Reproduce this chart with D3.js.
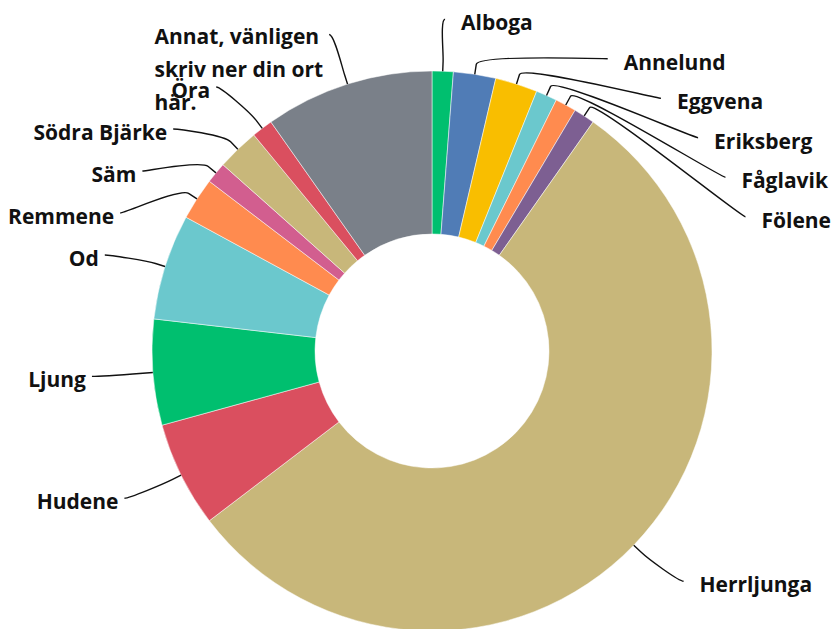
<!DOCTYPE html>
<html>
<head>
<meta charset="utf-8">
<script src="https://cdn.jsdelivr.net/npm/d3@7"></script>
<style>
    body { margin: 0; background: #fff; }
    #chart text {
        font-family: "Open Sans", sans-serif;
        font-weight: 700;
        font-size: 21px;
        fill: #111;
    }
</style>
</head>
<body>
<svg id="chart"></svg>
<script>
// answers, clockwise from 12 o'clock
const categories = ["Alboga", "Annelund", "Eggvena", "Eriksberg", "Fåglavik", "Fölene",
    "Herrljunga", "Hudene", "Ljung", "Od", "Remmene", "Säm", "Södra Bjärke", "Öra",
    "Annat, vänligen skriv ner din ort här."];
const counts = [1, 2, 2, 1, 1, 1, 45, 5, 5, 5, 2, 1, 2, 1, 8];
const colors = ["#00bf6f", "#507cb6", "#f9be00", "#6bc8cd", "#ff8b4f", "#7d5f92",
    "#c8b77a", "#da4f5f", "#00bf6f", "#6bc8cd", "#ff8b4f", "#d25e8f", "#c8b77a", "#da4f5f",
    "#7a8089"];

const width = 837, height = 629;
const cx = 432, cy = 351;
const outerR = 280, innerR = 117;
const labelR = 341;   // where connectors end
const naturalR = 332; // where labels would like to sit
const wrapWidth = 180;

const svg = d3.select("#chart")
    .attr("width", width)
    .attr("height", height);

const g = svg.append("g").attr("transform", `translate(${cx},${cy})`);

const pie = d3.pie().sort(null).value(d => d.value);
const arcs = pie(categories.map((c, i) => ({ name: c, value: counts[i], color: colors[i] })));
const arc = d3.arc().innerRadius(innerR).outerRadius(outerR);

g.selectAll("path.slice")
    .data(arcs)
    .join("path")
    .attr("class", "slice")
    .attr("d", arc)
    .attr("fill", d => d.data.color)
    .attr("stroke", "#fff")
    .attr("stroke-width", 0.5);

// label layout (roughly what the original charting lib does)
arcs.forEach(d => {
    d.mid = (d.startAngle + d.endAngle) / 2;
    d.left = d.mid > Math.PI;
    d.naturalY = -naturalR * Math.cos(d.mid);
});

function placeSide(list, gap) {
    list.sort((a, b) => a.naturalY - b.naturalY);
    let prev = null;
    list.forEach((d, i) => {
        d.ly = prev === null ? d.naturalY : Math.max(d.naturalY, prev + gap);
        prev = d.ly;
        const sign = d.left ? -1 : 1;
        if (i === 0) {
            d.lx = labelR * Math.sin(d.mid); // top label keeps its natural x
        } else {
            d.lx = sign * Math.sqrt(Math.max(0, labelR * labelR - d.ly * d.ly));
        }
    });
}
placeSide(arcs.filter(d => !d.left), 39.5);
placeSide(arcs.filter(d => d.left), 42);

// soft connectors
function connector(d) {
    const s = Math.sin(d.mid), c = -Math.cos(d.mid);
    const tx = outerR * s, ty = outerR * c;
    const bx = (outerR + 10) * s, by = (outerR + 10) * c;
    const p = d3.path();
    p.moveTo(d.lx, d.ly);
    p.bezierCurveTo(d.lx + (d.left ? 5 : -5), d.ly, 2 * bx - tx, 2 * by - ty, bx, by);
    p.lineTo(tx, ty);
    return p.toString();
}

g.selectAll("path.connector")
    .data(arcs)
    .join("path")
    .attr("class", "connector")
    .attr("d", connector)
    .attr("fill", "none")
    .attr("stroke", "#111")
    .attr("stroke-width", 1.4);

const labels = g.selectAll("text.label")
    .data(arcs)
    .join("text")
    .attr("class", "label")
    .attr("y", d => d.ly + 11);

labels.each(function (d) {
    const text = d3.select(this);
    const words = d.data.name.split(" ");
    let lines = [], line = [];
    const probe = text.append("tspan");
    words.forEach(w => {
        line.push(w);
        probe.text(line.join(" "));
        if (probe.node().getComputedTextLength() > wrapWidth && line.length > 1) {
            line.pop();
            lines.push(line.join(" "));
            line = [w];
        }
    });
    lines.push(line.join(" "));
    probe.remove();

    if (lines.length === 1) {
        text.text(lines[0])
            .attr("x", d.left ? d.lx - 6 : d.lx + 16)
            .attr("text-anchor", d.left ? "end" : "start");
        return;
    }
    // wrapped label: left aligned block
    const spans = lines.map((l, i) => text.append("tspan").text(l).attr("dy", i === 0 ? 0 : 33));
    const blockW = d3.max(spans, s => s.node().getComputedTextLength());
    const x0 = d.left ? d.lx - 6 - blockW : d.lx + 16;
    spans.forEach(s => s.attr("x", x0));
    text.attr("y", d.ly + 10);
});
</script>
</body>
</html>
